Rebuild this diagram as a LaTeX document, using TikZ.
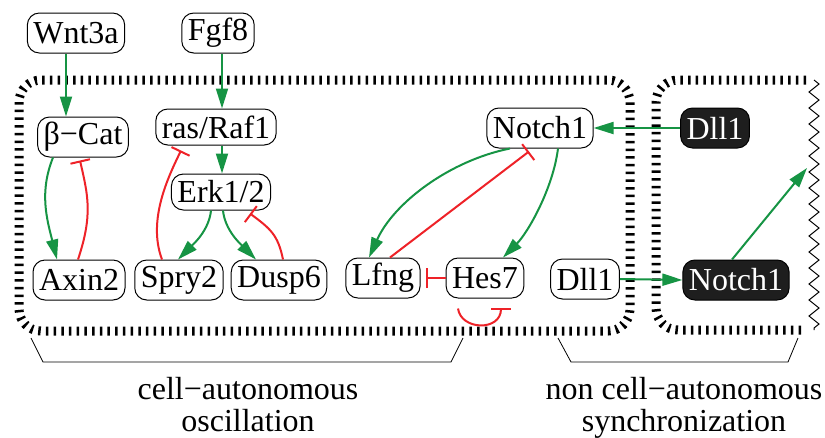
\documentclass[tikz,border=0pt]{standalone}
\usepackage{fontspec}
\setmainfont{Liberation Serif}
\usetikzlibrary{arrows.meta,decorations.pathmorphing}
\definecolor{actgreen}{RGB}{22,148,68}
\definecolor{inhred}{RGB}{238,34,40}
\definecolor{boxblack}{RGB}{30,30,30}

\begin{document}
\begin{tikzpicture}[x=1pt,y=-1pt,
  gene/.style={draw,line width=1pt,rounded corners=12pt,minimum height=40pt,
    inner xsep=6pt,inner ysep=2pt,font=\fontsize{32}{36}\selectfont},
  ligand/.style={gene,fill=boxblack,text=white},
  act/.style={draw=actgreen,line width=2pt,-{Triangle[length=20pt,width=12pt]}},
  inh/.style={draw=inhred,line width=2pt,-{Bar[width=20pt,line width=2pt]}},
  cellwall/.style={line width=9pt,dash pattern=on 2.5pt off 5.2pt},
  brace/.style={line width=0.8pt},
  caption/.style={font=\fontsize{32}{35}\selectfont,inner sep=0pt,anchor=base}]
\useasboundingbox (0,0) rectangle (825,437);

% cell membranes
\draw[cellwall,rounded corners=22pt] (19,80) rectangle (630,331);
\draw[cellwall,rounded corners=22pt] (806,80) -- (656,80) -- (656,330) -- (806,330);
\draw[line width=1pt,decorate,decoration={zigzag,amplitude=5pt,segment length=16pt}]
  (814,80) -- (814,330);

% brackets and captions
\draw[brace] (31,338) -- (43,362) -- (451,362) -- (463,338);
\draw[brace] (558,338) -- (571,362) -- (788,362) -- (798,338);
\node[caption] (oscA) at (248,399) {cell−autonomous};
\node[caption] (oscB) at (248,431) {oscillation};
\node[caption] (syncA) at (684,399) {non cell−autonomous};
\node[caption] (syncB) at (684,431) {synchronization};

% genes and proteins
\node[gene] (wnt) at (76,33) {Wnt3a};
\node[gene] (fgf) at (218,33) {Fgf8};
\node[gene] (bcat) at (83,137) {β−Cat};
\node[gene,minimum height=36pt] (ras) at (216,127) {ras/Raf1};
\node[gene,minimum height=36pt] (erk) at (221,192) {Erk1/2};
\node[gene] (axin) at (79,280) {Axin2};
\node[gene] (spry) at (179,280) {Spry2};
\node[gene] (dusp) at (279,280) {Dusp6};
\node[gene] (lfng) at (383,278) {Lfng};
\node[gene] (hes) at (485,278) {Hes7};
\node[gene] (notch) at (540,128) {Notch1};
\node[ligand] (dllA) at (715,128) {Dll1};
\node[gene] (dllB) at (585,279) {Dll1};
\node[ligand] (notchB) at (736,280) {Notch1};
\coordinate (edge) at (807,168);

% Wnt branch
\draw[act] ([xshift=-10pt]wnt.south) -- ([xshift=-10pt]wnt.south |- bcat.north);
\draw[act] ([xshift=-30pt]bcat.south) .. controls +(-14,35) and +(-10,-40) .. ([xshift=-22pt]axin.north);
\draw[inh] ([xshift=-1pt]axin.north) .. controls +(15,-45) and +(8,35) .. ([xshift=-3pt,yshift=-3pt]bcat.south);

% Fgf branch
\draw[act] ([xshift=4pt]fgf.south) -- ([xshift=4pt]fgf.south |- ras.north);
\draw[act] ([xshift=1pt]erk.north |- ras.south) -- ([xshift=1pt]erk.north);
\draw[act] ([xshift=-10pt]erk.south) .. controls +(-2,20) and +(15,-15) .. ([xshift=-1pt]spry.north);
\draw[act] ([xshift=2pt]erk.south) .. controls +(2,20) and +(-15,-15) .. ([xshift=-23pt]dusp.north);
\draw[inh] ([xshift=4pt]dusp.north) .. controls +(-5,-25) and +(20,15) .. ([xshift=29pt,yshift=-3pt]erk.south);
\draw[inh] ([xshift=-17pt]spry.north) .. controls +(-15,-40) and +(-12,25) .. ([xshift=-35pt,yshift=-5pt]ras.south);

% Notch branch
\draw[act] ([xshift=-30pt]notch.south) .. controls +(-60,12) and +(25,-55) .. ([xshift=-14pt]lfng.north);
\draw[act] ([xshift=18pt]notch.south) .. controls +(-5,40) and +(25,-25) .. ([xshift=18pt]hes.north);
\draw[inh] ([xshift=7pt]lfng.north) -- ([xshift=-11pt,yshift=-3pt]notch.south);
\draw[inh] (hes.west) -- ([xshift=5pt]lfng.east);
\draw[inh] ([xshift=-27pt,yshift=-10pt]hes.south) .. controls +(3,22) and +(0,24) .. ([xshift=16pt,yshift=-9pt]hes.south);

% signalling between cells
\draw[act] (dllA.west) -- (notch.east);
\draw[act] (dllB.east) -- (notchB.west);
\draw[act] ([xshift=-4pt]notchB.north) -- (edge);
\end{tikzpicture}
\end{document}
